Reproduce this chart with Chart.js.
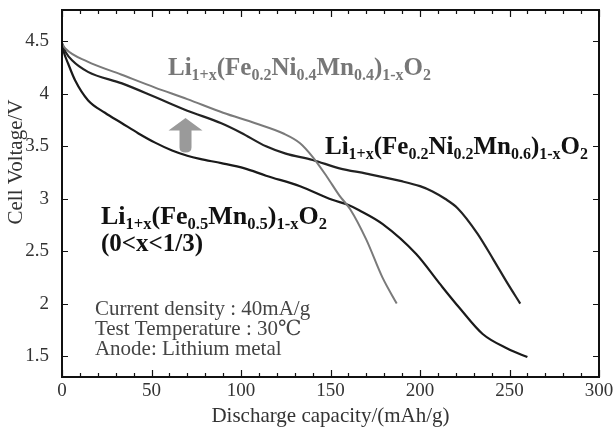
<!DOCTYPE html>
<html>
<head>
<meta charset="utf-8">
<script src="https://cdn.jsdelivr.net/npm/chart.js@4.4.1/dist/chart.umd.min.js"></script>
<style>
  html, body { margin: 0; padding: 0; background: #fff; }
</style>
</head>
<body>
<canvas id="c" width="614" height="429"></canvas>
<script>
// Li1+x(Fe0.2Ni0.4Mn0.4)1-xO2  (gray)
const capNi04 = [0, 2, 14, 33, 52, 70, 90, 108, 124, 133, 140, 148, 155, 161, 170, 179, 187];
const voltNi04 = [4.48, 4.43, 4.31, 4.185, 4.06, 3.95, 3.82, 3.72, 3.62, 3.53, 3.40, 3.21, 3.03, 2.90, 2.61, 2.25, 2.00];

// Li1+x(Fe0.2Ni0.2Mn0.6)1-xO2
const capNi02 = [0, 2, 5.6, 14.5, 33.5, 52, 70, 89, 100, 114, 125, 140, 155, 170, 189, 200, 207, 214, 221, 232, 241, 249, 256];
const voltNi02 = [4.48, 4.40, 4.32, 4.21, 4.10, 3.97, 3.84, 3.72, 3.63, 3.50, 3.43, 3.37, 3.29, 3.24, 3.17, 3.12, 3.07, 3.00, 2.91, 2.67, 2.42, 2.19, 2.00];

// Li1+x(Fe0.5Mn0.5)1-xO2
const capFeMn = [0, 1, 3.4, 7.3, 14.5, 24, 33.5, 42.5, 52, 61.5, 70, 77, 89, 102, 114, 133, 151, 160, 166, 179, 198, 211, 222, 235, 249, 260];
const voltFeMn = [4.48, 4.40, 4.29, 4.13, 3.94, 3.82, 3.72, 3.625, 3.535, 3.46, 3.41, 3.38, 3.34, 3.29, 3.22, 3.12, 2.99, 2.94, 2.89, 2.76, 2.47, 2.19, 1.96, 1.71, 1.57, 1.49];

const xTickValues = [0, 50, 100, 150, 200, 250, 300];
const yTickValues = [1.5, 2, 2.5, 3, 3.5, 4, 4.5];

const infoLines = ['Current density : 40mA/g', 'Test Temperature : 30\u2103', 'Anode: Lithium metal'];

const SERIF = '"Liberation Serif", "DejaVu Serif", serif';

function zip(xs, ys) {
  return xs.map((x, i) => ({ x: x, y: ys[i] }));
}

// text with subscripts: strings are normal, arrays are subscript
function drawRich(ctx, x, y, parts, size, subSize, color) {
  ctx.save();
  ctx.fillStyle = color;
  ctx.textAlign = 'left';
  ctx.textBaseline = 'alphabetic';
  parts.forEach(p => {
    if (Array.isArray(p)) {
      ctx.font = `bold ${subSize}px ${SERIF}`;
      ctx.fillText(p[0], x, y + 5);
      x += ctx.measureText(p[0]).width;
    } else {
      ctx.font = `bold ${size}px ${SERIF}`;
      ctx.fillText(p, x, y);
      x += ctx.measureText(p).width;
    }
  });
  ctx.restore();
}

const decorations = {
  id: 'decorations',
  afterDraw: chart => {
    const ctx = chart.ctx;
    const a = chart.chartArea;
    const sx = chart.scales.x;
    const sy = chart.scales.y;

    ctx.save();
    // frame
    ctx.strokeStyle = '#111';
    ctx.lineWidth = 2;
    ctx.strokeRect(a.left, a.top, a.right - a.left, a.bottom - a.top);

    // inward ticks
    ctx.lineWidth = 1.2;
    ctx.beginPath();
    for (let v = 0; v <= 300; v += 10) {
      const px = Math.round(sx.getPixelForValue(v)) + 0.5;
      const len = v % 50 === 0 ? 7 : 4;
      ctx.moveTo(px, a.bottom); ctx.lineTo(px, a.bottom - len);
      ctx.moveTo(px, a.top); ctx.lineTo(px, a.top + len);
    }
    yTickValues.forEach(v => {
      const py = Math.round(sy.getPixelForValue(v)) + 0.5;
      ctx.moveTo(a.left, py); ctx.lineTo(a.left + 6, py);
      ctx.moveTo(a.right, py); ctx.lineTo(a.right - 6, py);
    });
    ctx.stroke();

    // y axis title
    ctx.save();
    ctx.translate(16, 162);
    ctx.rotate(-Math.PI / 2);
    ctx.font = `21px ${SERIF}`;
    ctx.fillStyle = '#333';
    ctx.textAlign = 'center';
    ctx.textBaseline = 'middle';
    ctx.fillText('Cell Voltage/V', 0, 0);
    ctx.restore();

    // gray arrow
    const ax = sx.getPixelForValue(69);
    const tip = sy.getPixelForValue(3.77);
    const neck = sy.getPixelForValue(3.65);
    const base = sy.getPixelForValue(3.44);
    ctx.fillStyle = '#9a9a9a';
    ctx.beginPath();
    ctx.moveTo(ax, tip);
    ctx.lineTo(ax + 17, neck);
    ctx.lineTo(ax + 6, neck);
    ctx.lineTo(ax + 6, base - 5);
    ctx.quadraticCurveTo(ax + 6, base, ax, base);
    ctx.quadraticCurveTo(ax - 6, base, ax - 6, base - 5);
    ctx.lineTo(ax - 6, neck);
    ctx.lineTo(ax - 17, neck);
    ctx.closePath();
    ctx.fill();

    // compound labels
    drawRich(ctx, sx.getPixelForValue(59.2), sy.getPixelForValue(4.178),
      ['Li', ['1+x'], '(Fe', ['0.2'], 'Ni', ['0.4'], 'Mn', ['0.4'], ')', ['1-x'], 'O', ['2']], 25, 16, '#777');
    drawRich(ctx, sx.getPixelForValue(146.9), sy.getPixelForValue(3.422),
      ['Li', ['1+x'], '(Fe', ['0.2'], 'Ni', ['0.2'], 'Mn', ['0.6'], ')', ['1-x'], 'O', ['2']], 25, 16, '#111');
    drawRich(ctx, sx.getPixelForValue(21.8), sy.getPixelForValue(2.762),
      ['Li', ['1+x'], '(Fe', ['0.5'], 'Mn', ['0.5'], ')', ['1-x'], 'O', ['2']], 26, 16.5, '#111');
    drawRich(ctx, sx.getPixelForValue(21.8), sy.getPixelForValue(2.503),
      ['(0<x<1/3)'], 25, 16, '#111');

    // test conditions
    ctx.font = `21px ${SERIF}`;
    ctx.fillStyle = '#444';
    ctx.textAlign = 'left';
    ctx.textBaseline = 'alphabetic';
    const infoY = [1.891, 1.700, 1.508];
    infoLines.forEach((t, i) => ctx.fillText(t, sx.getPixelForValue(18.4), sy.getPixelForValue(infoY[i])));
    ctx.restore();
  }
};

const line = (label, xs, ys, color, width) => ({
  label: label,
  data: zip(xs, ys),
  borderColor: color,
  backgroundColor: color,
  borderWidth: width,
  pointRadius: 0,
  fill: false,
  cubicInterpolationMode: 'monotone',
});

new Chart(document.getElementById('c'), {
  type: 'line',
  data: {
    datasets: [
      line('Li1+x(Fe0.2Ni0.4Mn0.4)1-xO2', capNi04, voltNi04, '#7a7a7a', 2),
      line('Li1+x(Fe0.2Ni0.2Mn0.6)1-xO2', capNi02, voltNi02, '#222', 2.2),
      line('Li1+x(Fe0.5Mn0.5)1-xO2', capFeMn, voltFeMn, '#1a1a1a', 2.2),
    ]
  },
  plugins: [decorations],
  options: {
    responsive: false,
    animation: false,
    devicePixelRatio: 1,
    layout: { padding: { top: 10, right: 15, left: 0, bottom: 0 } },
    plugins: { legend: { display: false }, tooltip: { enabled: false } },
    scales: {
      x: {
        type: 'linear',
        min: 0,
        max: 300,
        afterFit: s => { s.height = 52; s.paddingLeft = 0; s.paddingRight = 0; },
        grid: { display: false },
        border: { display: false },
        afterBuildTicks: s => { s.ticks = xTickValues.map(v => ({ value: v })); },
        ticks: {
          font: { family: SERIF, size: 19 },
          color: '#333',
          padding: -5,
          maxRotation: 0,
          callback: v => String(v),
        },
        title: {
          display: true,
          text: 'Discharge capacity/(mAh/g)',
          font: { family: SERIF, size: 21 },
          color: '#333',
          padding: 0,
        }
      },
      y: {
        type: 'linear',
        min: 1.3,
        max: 4.8,
        afterFit: s => { s.width = 62; s.paddingTop = 0; s.paddingBottom = 0; },
        grid: { display: false },
        border: { display: false },
        afterBuildTicks: s => { s.ticks = yTickValues.map(v => ({ value: v })); },
        ticks: {
          font: { family: SERIF, size: 19 },
          color: '#333',
          padding: 5,
          callback: v => String(+v.toFixed(1)),
        }
      }
    }
  }
});
</script>
</body>
</html>
